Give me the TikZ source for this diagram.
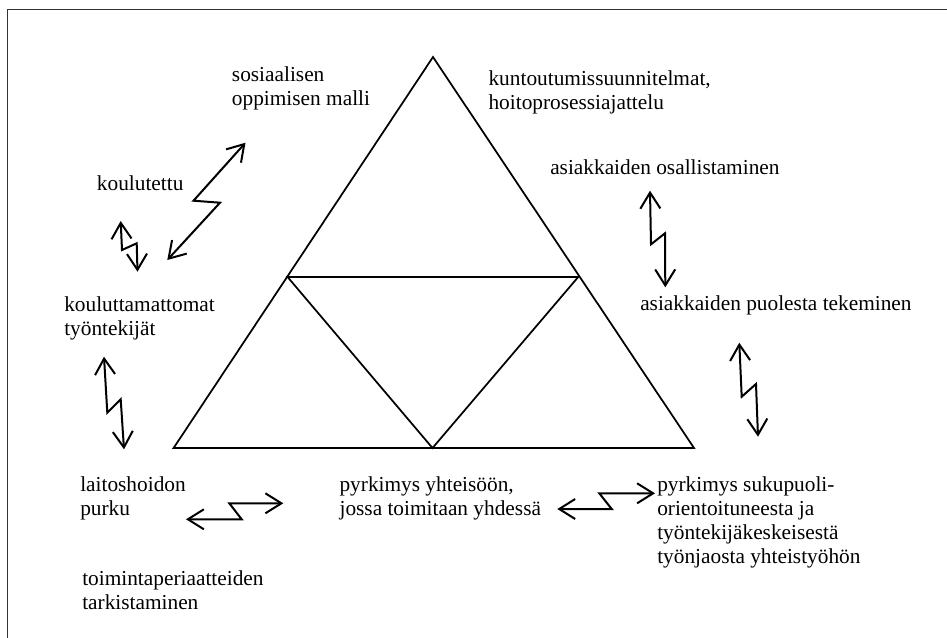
\documentclass[tikz,border=0pt]{standalone}
\usepackage{fontspec}
\setmainfont{Liberation Serif}
\usetikzlibrary{arrows.meta}
\newcommand\mlines[1]{\begin{tabular}[t]{@{}l@{}}#1\end{tabular}}
\begin{document}
\begin{tikzpicture}[x=0.75pt,y=-0.75pt,
  lbl/.style={anchor=base west,inner sep=0pt,font=\fontsize{16}{18}\selectfont},
  tri/.style={line width=1.3pt,line join=miter},
  zig/.style={line width=1.5pt,{Straight Barb[length=12pt,width=15pt,line width=1.5pt]}-{Straight Barb[length=12pt,width=15pt,line width=1.5pt]}},
  frame/.style={line width=1.4pt,draw=black!80}]
\useasboundingbox (0,0) rectangle (947,637);
% frame (only top and left visible)
\coordinate (f1) at (7.5,640);
\coordinate (f2) at (7.5,9.5);
\coordinate (f3) at (950,9.5);
\draw[frame] (f1) -- (f2) -- (f3);
% triangle
\coordinate (A) at (433,57);
\coordinate (B) at (173.6,448);
\coordinate (C) at (694,448);
\coordinate (L) at (287.6,277);
\coordinate (R) at (578.2,277);
\coordinate (M) at (432.5,448);
\draw[tri] (A) -- (B) -- (C) -- cycle;
\draw[tri] (L) -- (R) -- (M) -- cycle;
% labels
\node[lbl] (sos) at (231.7,81.7) {\mlines{sosiaalisen\\oppimisen malli}};
\node[lbl] (kunt) at (488.3,85) {\mlines{kuntoutumissuunnitelmat,\\hoitoprosessiajattelu}};
\node[lbl] (koul) at (96.7,190.7) {koulutettu};
\node[lbl] (osal) at (550,174) {asiakkaiden osallistaminen};
\node[lbl] (kouln) at (64,311) {\mlines{kouluttamattomat\\työntekijät}};
\node[lbl] (puol) at (640,310.7) {asiakkaiden puolesta tekeminen};
\node[lbl] (lait) at (80,491.7) {\mlines{laitoshoidon\\purku}};
\node[lbl] (yht) at (339.3,491.7) {\mlines{pyrkimys yhteisöön,\\jossa toimitaan yhdessä}};
\node[lbl] (suku) at (657,491.7) {\mlines{pyrkimys sukupuoli-\\orientoituneesta ja\\työntekijäkeskeisestä\\työnjaosta yhteistyöhön}};
\node[lbl] (toim) at (82,585) {\mlines{toimintaperiaatteiden\\tarkistaminen}};
% zigzag arrows
\coordinate (a1) at (245.5,142.7); \coordinate (a2) at (193.5,200.7);
\coordinate (a3) at (220,202.7);   \coordinate (a4) at (167.3,260);
\draw[zig] (a1) -- (a2) -- (a3) -- (a4);
\coordinate (b1) at (120.7,221);   \coordinate (b2) at (122,250);
\coordinate (b3) at (136.7,243.3); \coordinate (b4) at (137.5,271.7);
\draw[zig] (b1) -- (b2) -- (b3) -- (b4);
\coordinate (c1) at (104,356.7);   \coordinate (c2) at (107.3,412.7);
\coordinate (c3) at (120.7,399.3); \coordinate (c4) at (124,449.3);
\draw[zig] (c1) -- (c2) -- (c3) -- (c4);
\coordinate (d1) at (186,519.3);   \coordinate (d2) at (241.7,519.3);
\coordinate (d3) at (229.3,503.3); \coordinate (d4) at (283.3,503.3);
\draw[zig] (d1) -- (d2) -- (d3) -- (d4);
\coordinate (e1) at (557.3,509);   \coordinate (e2) at (611.7,509);
\coordinate (e3) at (599.3,493.3); \coordinate (e4) at (655,493.3);
\draw[zig] (e1) -- (e2) -- (e3) -- (e4);
\coordinate (g1) at (650,190.7);   \coordinate (g2) at (651,244.3);
\coordinate (g3) at (665,233.3);   \coordinate (g4) at (665.3,287.3);
\draw[zig] (g1) -- (g2) -- (g3) -- (g4);
\coordinate (h1) at (739.3,342.7); \coordinate (h2) at (741.7,396.7);
\coordinate (h3) at (756,384);     \coordinate (h4) at (758,436.7);
\draw[zig] (h1) -- (h2) -- (h3) -- (h4);
\end{tikzpicture}
\end{document}
